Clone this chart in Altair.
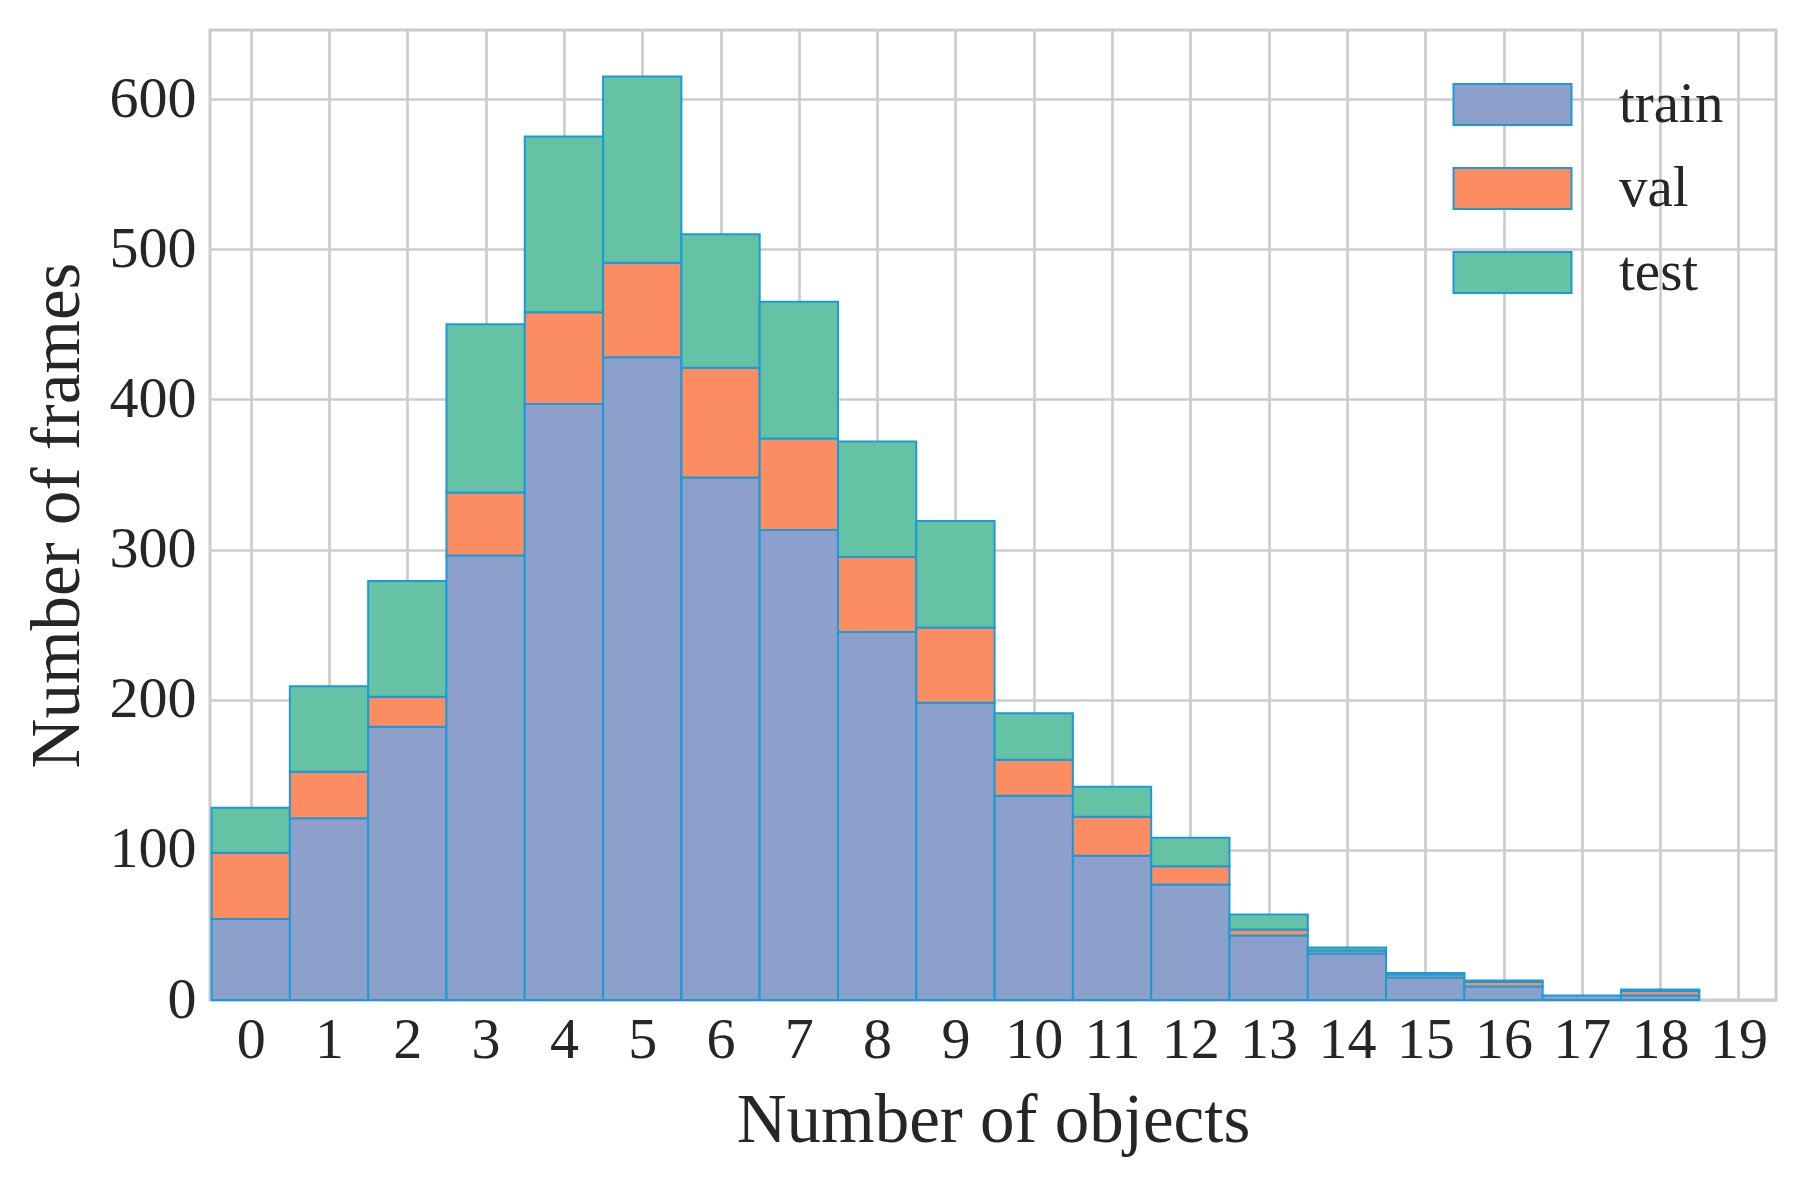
import altair as alt
import pandas as pd

# ---- data ----
objects = list(range(20))
train = [54, 121, 182, 296, 397, 428, 348, 313, 245, 198, 136, 96, 77, 43, 31, 15, 9, 3, 3, 0]
val = [44, 31, 20, 42, 61, 63, 73, 61, 50, 50, 24, 26, 12, 4, 2, 2, 3, 0, 3, 0]
test = [30, 57, 77, 112, 117, 124, 89, 91, 77, 71, 31, 20, 19, 10, 2, 1, 1, 0, 1, 0]
splits = ["train", "val", "test"]
colors = ["#8da0cb", "#fc8d62", "#66c2a5"]
y_ticks = [0, 100, 200, 300, 400, 500, 600]

rows = []
for i, n in enumerate(objects):
    for k, (name, series) in enumerate(zip(splits, [train, val, test])):
        rows.append({"n": n, "split": name, "order": k, "count": series[i]})
df = pd.DataFrame(rows)

FONT = "Liberation Serif"
TEXT = "#262626"
GRID = "#cccccc"
EDGE = "#1a9bd7"

chart = (
    alt.Chart(df)
    .transform_stack(
        stack="count",
        groupby=["n"],
        as_=["y0", "y1"],
        sort=[alt.SortField("order", order="ascending")],
    )
    .transform_filter("datum.count > 0")
    .transform_calculate(x0="datum.n - 0.5", x1="datum.n + 0.5")
    .mark_rect(stroke=EDGE, strokeWidth=2)
    .encode(
        x=alt.X(
            "x0:Q",
            scale=alt.Scale(domain=[-0.52, 19.48], nice=False, zero=False),
            axis=alt.Axis(
                values=objects,
                format="d",
                title="Number of objects",
                titleFont=FONT,
                titleFontSize=69,
                titleFontWeight="normal",
                titleColor=TEXT,
                titleBaseline="alphabetic",
                titleY=141,
                labelFont=FONT,
                labelFontSize=58,
                labelColor=TEXT,
                labelPadding=11,
                labelFlush=False,
                labelOverlap=False,
                ticks=False,
                tickSize=0,
                domain=False,
                grid=True,
                gridColor=GRID,
                gridWidth=2.7,
            ),
        ),
        x2="x1:Q",
        y=alt.Y(
            "y0:Q",
            scale=alt.Scale(domain=[0, 646], nice=False),
            axis=alt.Axis(
                values=y_ticks,
                format="d",
                title="Number of frames",
                titleFont=FONT,
                titleFontSize=69,
                titleFontWeight="normal",
                titleColor=TEXT,
                titleAngle=270,
                titleBaseline="alphabetic",
                titleAlign="center",
                titleX=-132,
                labelFont=FONT,
                labelFontSize=58,
                labelColor=TEXT,
                labelPadding=14,
                labelBaseline="middle",
                ticks=False,
                tickSize=0,
                domain=False,
                grid=True,
                gridColor=GRID,
                gridWidth=2.7,
            ),
        ),
        y2="y1:Q",
        fill=alt.Fill(
            "split:N",
            scale=alt.Scale(domain=splits, range=colors),
            sort=splits,
            legend=alt.Legend(
                title=None,
                orient="none",
                legendX=1274,
                legendY=46,
                direction="vertical",
                padding=0,
                offset=0,
                symbolType="M-2.185,-0.759H2.185V0.759H-2.185Z",
                symbolSize=2916,
                symbolStrokeColor=EDGE,
                symbolStrokeWidth=2,
                symbolOpacity=1,
                labelFont=FONT,
                labelFontSize=57,
                labelColor=TEXT,
                labelOffset=78,
                rowPadding=26,
                labelLimit=400,
            ),
        ),
    )
    .properties(
        width=1566,
        height=970,
        autosize=alt.AutoSizeParams(type="none"),
        padding={"left": 202, "top": 22, "right": 20, "bottom": 176},
        background="white",
    )
    .configure_view(stroke=GRID, strokeWidth=3)
)

chart.save("out.html", embed_options={"renderer": "svg", "actions": False})
